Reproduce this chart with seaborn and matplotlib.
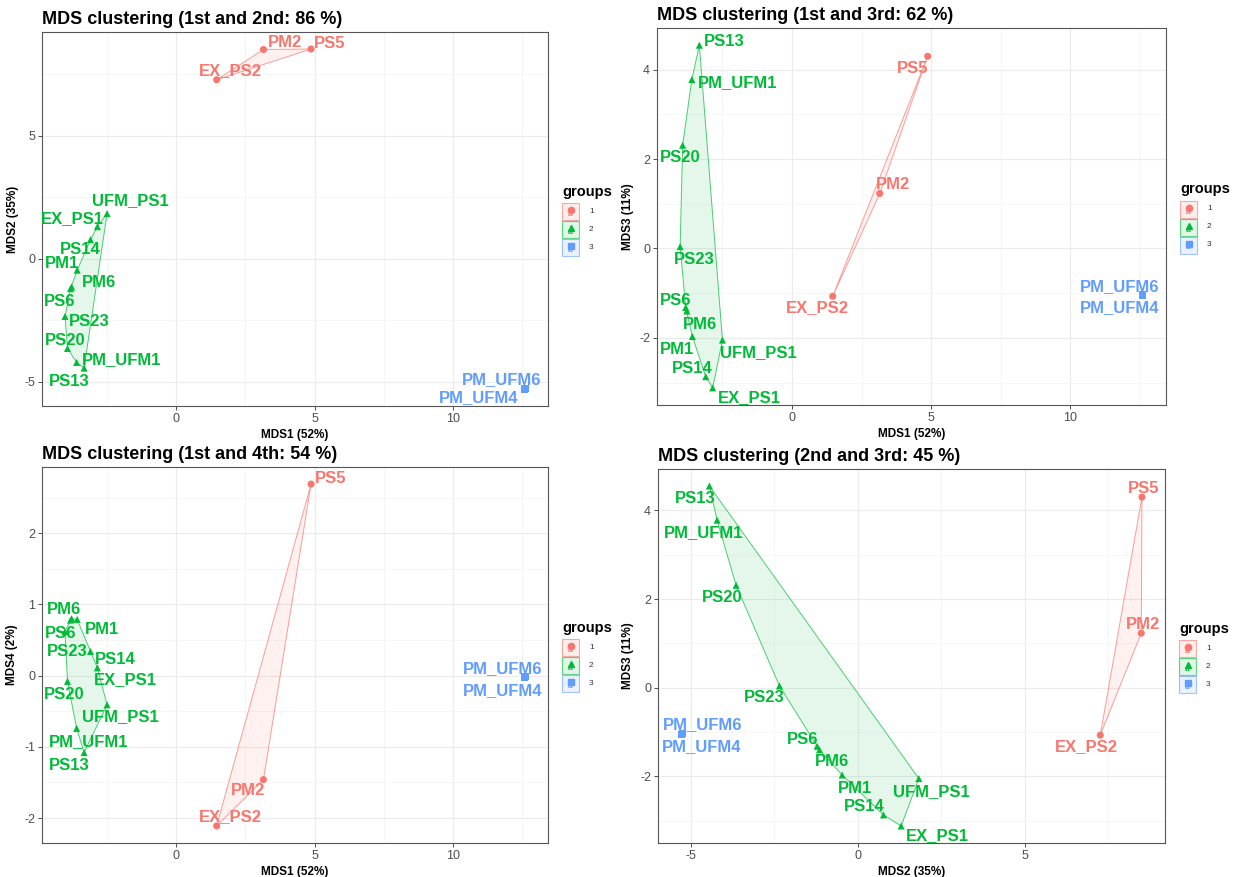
import numpy as np
import pandas as pd
import matplotlib
matplotlib.use('Agg')
import matplotlib.pyplot as plt
import seaborn as sns
from matplotlib.patches import Rectangle
from matplotlib.lines import Line2D
from matplotlib.ticker import AutoMinorLocator

# sample coordinates
samples = ["PM2", "PS5", "EX_PS2", "UFM_PS1", "EX_PS1", "PS14", "PM1", "PM6",
           "PS6", "PS23", "PS20", "PM_UFM1", "PS13", "PM_UFM6", "PM_UFM4"]
groups = [1, 1, 1, 2, 2, 2, 2, 2, 2, 2, 2, 2, 2, 3, 3]
mds1 = [3.15, 4.87, 1.46, -2.50, -2.85, -3.10, -3.58, -3.78, -3.82, -4.02,
        -3.93, -3.60, -3.33, 12.60, 12.58]
mds2 = [8.50, 8.52, 7.27, 1.83, 1.30, 0.77, -0.47, -1.15, -1.22, -2.35,
        -3.65, -4.22, -4.45, -5.27, -5.30]
mds3 = [1.23, 4.30, -1.07, -2.05, -3.12, -2.87, -1.97, -1.40, -1.32, 0.04,
        2.31, 3.78, 4.55, -1.03, -1.05]
mds4 = [-1.46, 2.69, -2.11, -0.41, 0.11, 0.34, 0.79, 0.80, 0.78, 0.62,
        -0.08, -0.74, -1.08, -0.01, -0.03]

titles = ["MDS clustering (1st and 2nd: 86 %)", "MDS clustering (1st and 3rd: 62 %)",
          "MDS clustering (1st and 4th: 54 %)", "MDS clustering (2nd and 3rd: 45 %)"]
axis_names = {"MDS1": "MDS1 (52%)", "MDS2": "MDS2 (35%)",
              "MDS3": "MDS3 (11%)", "MDS4": "MDS4 (2%)"}

df = pd.DataFrame({"sample": samples, "group": groups, "MDS1": mds1,
                   "MDS2": mds2, "MDS3": mds3, "MDS4": mds4})

palette = {1: "#F8766D", 2: "#00BA38", 3: "#619CFF"}
markers = {1: "o", 2: "^", 3: "s"}

# label offsets (pixels) mimicking the ggrepel placement
off12 = [(22, 7), (19, 6), (14, 9), (23, 13), (-25, 8), (-10, -10), (-15, 7), (27, 4),
         (-11, -13), (24, -5), (-2, 8), (45, 3), (-15, -13), (-23, 9), (-46, -9)]
off13 = [(13, 9), (-15, -12), (-15, -11), (36, -13), (37, -10), (-14, 8), (-15, -13), (13, -13),
         (-10, 7), (14, -13), (-2, -12), (46, -3), (25, 4), (-23, 8), (-23, -12)]
off14 = [(-15, -11), (20, 6), (14, 9), (13, -12), (28, -12), (25, -8), (25, -10), (-8, 9),
         (-10, -13), (2, -20), (-3, -13), (12, -13), (-15, -13), (-22, 8), (-22, -13)]
off23 = [(2, 9), (2, 9), (-14, -11), (13, -13), (36, -10), (-19, 8), (13, -13), (13, -12),
         (-14, 7), (-15, -12), (-14, -12), (-13, -12), (-14, -13), (21, 9), (21, -12)]

W, H = 1239, 877
panels = [
    ("MDS1", "MDS2", titles[0], off12, [0, 5, 10], [-5, 0, 5], (42, 32, 548, 406)),
    ("MDS1", "MDS3", titles[1], off13, [0, 5, 10], [-2, 0, 2, 4], (657, 28, 1166, 405)),
    ("MDS1", "MDS4", titles[2], off14, [0, 5, 10], [-2, -1, 0, 1, 2], (42, 467, 548, 843)),
    ("MDS2", "MDS3", titles[3], off23, [-5, 0, 5], [-2, 0, 2, 4], (658, 469, 1165, 843)),
]

sns.set_theme(style="white")
plt.rcParams['font.family'] = ['Liberation Sans', 'DejaVu Sans']
plt.rcParams['axes.unicode_minus'] = False
plt.rcParams['text.color'] = 'black'
plt.rcParams['axes.labelcolor'] = 'black'


def chull(pts):
    pts = sorted(set(pts))
    if len(pts) < 3:
        return pts

    def cross(o, a, b):
        return (a[0] - o[0]) * (b[1] - o[1]) - (a[1] - o[1]) * (b[0] - o[0])
    lower, upper = [], []
    for p in pts:
        while len(lower) >= 2 and cross(lower[-2], lower[-1], p) <= 0:
            lower.pop()
        lower.append(p)
    for p in reversed(pts):
        while len(upper) >= 2 and cross(upper[-2], upper[-1], p) <= 0:
            upper.pop()
        upper.append(p)
    return lower[:-1] + upper[:-1]


def draw_legend(fig, box):
    l, t, r, b = box
    x0 = r + 14
    yc = (t + b) / 2
    fig.text(x0 / W, 1 - (yc - 27) / H, "groups", fontsize=10.5, fontweight="bold",
             ha="left", va="center", color="black")
    for i, g in enumerate([1, 2, 3]):
        top = yc - 16 + i * 18
        col = palette[g]
        fig.add_artist(Rectangle((x0 / W, 1 - (top + 17) / H), 17 / W, 17 / H,
                                 transform=fig.transFigure, facecolor=col, alpha=0.12,
                                 edgecolor="none"))
        fig.add_artist(Rectangle((x0 / W, 1 - (top + 17) / H), 17 / W, 17 / H,
                                 transform=fig.transFigure, facecolor="none",
                                 edgecolor=col, alpha=0.6, linewidth=0.8))
        fig.add_artist(Line2D([(x0 + 8.5) / W], [1 - (top + 7) / H], marker=markers[g],
                              color=col, markersize=4.5, linestyle="none",
                              transform=fig.transFigure))
        fig.text((x0 + 8.5) / W, 1 - (top + 11.5) / H, "a", color=col, fontsize=6,
                 fontweight="bold", ha="center", va="center")
        fig.text((x0 + 27) / W, 1 - (top + 8.5) / H, str(g), fontsize=6,
                 ha="left", va="center", color="#333333")


fig = plt.figure(figsize=(W / 100, H / 100), dpi=100)

for xcol, ycol, title, offs, xt, yt, box in panels:
    l, t, r, b = box
    ax = fig.add_axes([l / W, 1 - b / H, (r - l) / W, (b - t) / H])

    for g in [1, 2, 3]:
        sub = df[df.group == g]
        hp = chull(list(zip(sub[xcol], sub[ycol])))
        hx = [p[0] for p in hp]
        hy = [p[1] for p in hp]
        ax.fill(hx, hy, facecolor=palette[g], alpha=0.1, edgecolor="none", zorder=2)
        ax.fill(hx, hy, facecolor="none", edgecolor=palette[g], alpha=0.7,
                linewidth=0.7, zorder=2)

    sns.scatterplot(data=df, x=xcol, y=ycol, hue="group", style="group",
                    markers=markers, palette=palette, s=26, linewidth=0,
                    legend=False, ax=ax, zorder=3)

    for i, row in df.iterrows():
        dx, dy = offs[i]
        ax.annotate(row["sample"], (row[xcol], row[ycol]), xytext=(dx, dy),
                    textcoords="offset pixels", ha="center", va="center",
                    fontsize=12, fontweight="bold", color=palette[row["group"]],
                    zorder=4)

    xr = df[xcol].max() - df[xcol].min()
    yr = df[ycol].max() - df[ycol].min()
    ax.set_xlim(df[xcol].min() - 0.05 * xr, df[xcol].max() + 0.05 * xr)
    ax.set_ylim(df[ycol].min() - 0.05 * yr, df[ycol].max() + 0.05 * yr)
    ax.set_xticks(xt)
    ax.set_yticks(yt)
    ax.xaxis.set_minor_locator(AutoMinorLocator(2))
    ax.yaxis.set_minor_locator(AutoMinorLocator(2))
    ax.grid(which="major", color="#EBEBEB", linewidth=0.8, zorder=0)
    ax.grid(which="minor", color="#F3F3F3", linewidth=0.5, zorder=0)
    ax.set_axisbelow(True)
    ax.tick_params(which="major", direction="out", length=3, width=0.6, color="#333333",
                   labelcolor="#4D4D4D", labelsize=9, pad=2, bottom=True, left=True)
    ax.tick_params(which="minor", length=0)
    for sp in ax.spines.values():
        sp.set_color("#555555")
        sp.set_linewidth(0.8)
    ax.set_xlabel(axis_names[xcol], fontsize=8.5, fontweight="bold", labelpad=3)
    ax.set_ylabel(axis_names[ycol], fontsize=8.5, fontweight="bold", labelpad=4)
    ax.set_title(title, loc="left", fontsize=13, fontweight="bold", pad=6, color="black")
    draw_legend(fig, box)

fig.savefig("out.png", dpi=100)
